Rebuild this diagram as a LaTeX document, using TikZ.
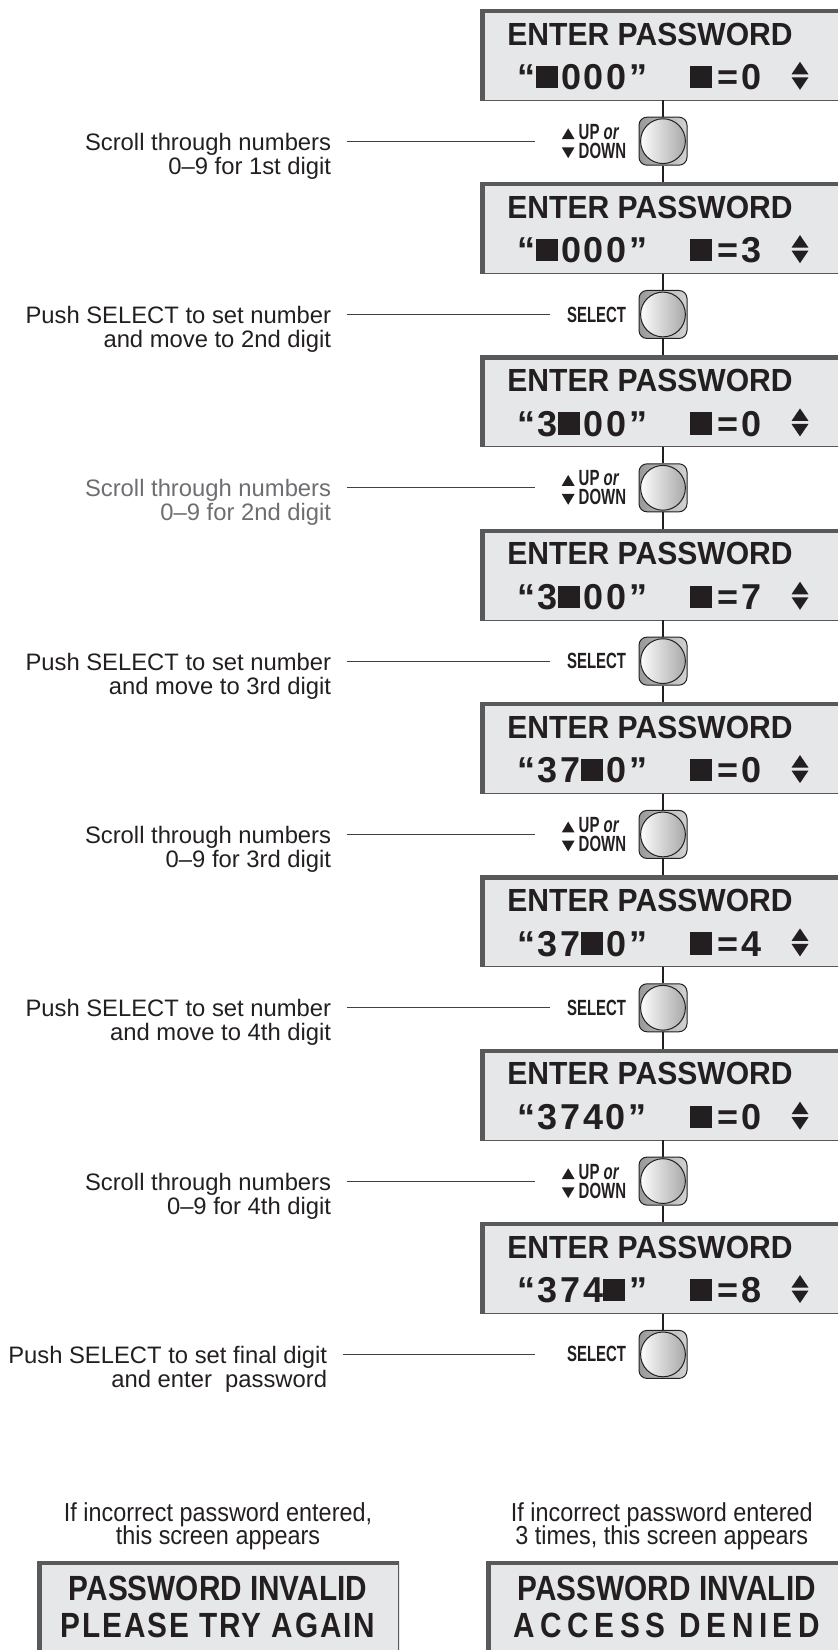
\documentclass[tikz,border=0pt]{standalone}
\usepackage{fontspec}
\setmainfont{Liberation Sans}
\newfontfamily\lcdfont[FakeStretch=0.94]{Liberation Sans}
\newfontfamily\keyfont[FakeStretch=0.68]{Liberation Sans}
\newfontfamily\narrowfont[FakeStretch=0.9]{Liberation Sans}
\newfontfamily\boxfont[FakeStretch=0.85]{Liberation Sans}
\usepackage{tikz}
\usetikzlibrary{positioning}
\lineskiplimit=-5pt
\tikzstyle{screen} = [rectangle, draw = inkBlack!75, line width = 0.4pt, fill = lcdGray, minimum width = 183pt, minimum height = 45.5pt, inner sep = 0pt, align = center, text = inkBlack, font = \lcdfont\fontsize{16}{22.2}\selectfont\bfseries, path picture = {\fill[lcdEdge] (path picture bounding box.north west) rectangle ([xshift = 2.6pt]path picture bounding box.south west); \fill[lcdEdge] (path picture bounding box.north west) rectangle ([yshift = -2pt]path picture bounding box.north east);}]
\tikzstyle{errscreen} = [rectangle, fill = lcdGray, minimum width = 181pt, minimum height = 44.5pt, inner sep = 0pt, align = center, text = inkBlack, font = \boxfont\fontsize{17.5}{18.5}\selectfont\bfseries, path picture = {\fill[lcdEdge] (path picture bounding box.north west) rectangle ([xshift = 2.6pt]path picture bounding box.south west); \fill[lcdEdge] (path picture bounding box.north west) rectangle ([yshift = -2pt]path picture bounding box.north east); \draw[inkBlack!75, line width = 0.8pt] (path picture bounding box.north east) -- (path picture bounding box.south east);}]
\tikzstyle{button} = [rectangle, rounded corners = 4pt, draw = inkBlack, line width = 0.5pt, left color = gray!80, right color = gray!35, minimum width = 24pt, minimum height = 24pt, path picture = {\shade[left color = white, right color = gray!70, draw = inkBlack, line width = 0.5pt] (path picture bounding box.center) circle (11.2pt);}]
\tikzstyle{keylabel} = [inner sep = 0pt, align = left, text = inkBlack, font = \keyfont\fontsize{11}{9.5}\selectfont\bfseries]
\tikzstyle{note} = [inner sep = 0pt, align = right, text = inkBlack, font = \fontsize{11.9}{12}\selectfont]
\tikzstyle{faintnote} = [note, text = noteGray]
\tikzstyle{caption} = [inner sep = 0pt, align = center, text = inkBlack, font = \narrowfont\fontsize{13}{11.5}\selectfont]
\tikzstyle{wire} = [draw = inkBlack, line width = 1pt]
\tikzstyle{lead} = [draw = inkBlack!85, line width = 0.5pt]
\definecolor{lcdGray}{HTML}{E6E7E8}
\definecolor{lcdEdge}{HTML}{58595B}
\definecolor{inkBlack}{HTML}{231F20}
\definecolor{noteGray}{HTML}{6D6E71}
\newcommand{\blk}{\rule[0.04em]{0.62em}{0.62em}\hspace{0.1em}}
\newcommand{\uptri}{\tikz\fill (0,0) -- (3.2pt,5.4pt) -- (6.4pt,0) -- cycle;}
\newcommand{\downtri}{\tikz\fill (0,5.4pt) -- (6.4pt,5.4pt) -- (3.2pt,0) -- cycle;}
\newcommand{\updown}{\raisebox{-0.2pt}{\tikz{\fill (0,7.75pt) -- (4.25pt,14pt) -- (8.5pt,7.75pt) -- cycle; \fill (0,6.25pt) -- (8.5pt,6.25pt) -- (4.25pt,0pt) -- cycle;}}}
\newcommand{\pin}[2]{{\normalfont\bfseries\fontsize{18}{22.2}\selectfont\addfontfeatures{LetterSpace=7}\makebox[68pt][l]{“#1”}\hspace{18pt}\makebox[39pt][l]{\blk\hspace{1pt}=\hspace{1.5pt}#2}}\hspace{12pt}\updown}
\newcommand{\entry}{\rule{0pt}{12.9pt}ENTER PASSWORD\hspace*{13pt}}

\begin{document}
\begin{tikzpicture}
        \useasboundingbox (0pt,0pt) rectangle (419pt,-825pt);
        \node(S1) [screen] at (331.5pt,-27.25pt) {\entry\\\pin{\blk000}{0}};
        \node(B1) [button, below of = S1, node distance = 43.33pt] {};
        \node(S2) [screen, below of = B1, node distance = 43.33pt] {\entry\\\pin{\blk000}{3}};
        \node(B2) [button, below of = S2, node distance = 43.33pt] {};
        \node(S3) [screen, below of = B2, node distance = 43.33pt] {\entry\\\pin{3\blk00}{0}};
        \node(B3) [button, below of = S3, node distance = 43.33pt] {};
        \node(S4) [screen, below of = B3, node distance = 43.33pt] {\entry\\\pin{3\blk00}{7}};
        \node(B4) [button, below of = S4, node distance = 43.33pt] {};
        \node(S5) [screen, below of = B4, node distance = 43.33pt] {\entry\\\pin{37\blk0}{0}};
        \node(B5) [button, below of = S5, node distance = 43.33pt] {};
        \node(S6) [screen, below of = B5, node distance = 43.33pt] {\entry\\\pin{37\blk0}{4}};
        \node(B6) [button, below of = S6, node distance = 43.33pt] {};
        \node(S7) [screen, below of = B6, node distance = 43.33pt] {\entry\\\pin{3740}{0}};
        \node(B7) [button, below of = S7, node distance = 43.33pt] {};
        \node(S8) [screen, below of = B7, node distance = 43.33pt] {\entry\\\pin{374\blk}{8}};
        \node(B8) [button, below of = S8, node distance = 43.33pt] {};
        % key names beside the buttons
        \node(K1) [keylabel, left = 6pt of B1] {\uptri\ UP \textit{or}\\\downtri\ DOWN};
        \node(K2) [keylabel, left = 6pt of B2] {SELECT};
        \node(K3) [keylabel, left = 6pt of B3] {\uptri\ UP \textit{or}\\\downtri\ DOWN};
        \node(K4) [keylabel, left = 6pt of B4] {SELECT};
        \node(K5) [keylabel, left = 6pt of B5] {\uptri\ UP \textit{or}\\\downtri\ DOWN};
        \node(K6) [keylabel, left = 6pt of B6] {SELECT};
        \node(K7) [keylabel, left = 6pt of B7] {\uptri\ UP \textit{or}\\\downtri\ DOWN};
        \node(K8) [keylabel, left = 6pt of B8] {SELECT};
        \node(N1) [note, left = 153.5pt of B1, yshift = -7.5pt] {Scroll through numbers\\0–9 for 1st digit};
        \node(N2) [note, left = 153.5pt of B2, yshift = -7.5pt] {Push SELECT to set number\\and move to 2nd digit};
        \node(N3) [faintnote, left = 153.5pt of B3, yshift = -7.5pt] {Scroll through numbers\\0–9 for 2nd digit};
        \node(N4) [note, left = 153.5pt of B4, yshift = -7.5pt] {Push SELECT to set number\\and move to 3rd digit};
        \node(N5) [note, left = 153.5pt of B5, yshift = -7.5pt] {Scroll through numbers\\0–9 for 3rd digit};
        \node(N6) [note, left = 153.5pt of B6, yshift = -7.5pt] {Push SELECT to set number\\and move to 4th digit};
        \node(N7) [note, left = 153.5pt of B7, yshift = -7.5pt] {Scroll through numbers\\0–9 for 4th digit};
        \node(N8) [note, left = 155.5pt of B8, yshift = -7.5pt] {Push SELECT to set final digit\\and enter\ \ password};
        % outcome screens, cut by the page edge
        \node(E1) [errscreen] at (109pt,-802.75pt) {\rule{0pt}{14pt}PASSWORD INVALID\\{\addfontfeatures{LetterSpace=5.5}PLEASE TRY AGAIN}};
        \node(E2) [errscreen, right = 43pt of E1] {\rule{0pt}{14pt}PASSWORD INVALID\\{\addfontfeatures{LetterSpace=16}ACCESS DENIED}};
        \node(C1) [caption, above = 5pt of E1] {If incorrect password entered,\\this screen appears};
        \node(C2) [caption, above = 5pt of E2, xshift = -2.5pt] {If incorrect password entered\\3 times, this screen appears};
        \begin{scope}[on background layer/.try]
        \draw[wire] (S1) -- (B1);
        \draw[wire] (B1) -- (S2);
        \draw[wire] (S2) -- (B2);
        \draw[wire] (B2) -- (S3);
        \draw[wire] (S3) -- (B3);
        \draw[wire] (B3) -- (S4);
        \draw[wire] (S4) -- (B4);
        \draw[wire] (B4) -- (S5);
        \draw[wire] (S5) -- (B5);
        \draw[wire] (B5) -- (S6);
        \draw[wire] (S6) -- (B6);
        \draw[wire] (B6) -- (S7);
        \draw[wire] (S7) -- (B7);
        \draw[wire] (B7) -- (S8);
        \draw[wire] (S8) -- (B8);
        \end{scope}
        \draw[lead] ([xshift = 7.5pt]N1.east |- B1) -- ([xshift = -52pt]B1.west);
        \draw[lead] ([xshift = 7.5pt]N2.east |- B2) -- ([xshift = -44.5pt]B2.west);
        \draw[lead] ([xshift = 7.5pt]N3.east |- B3) -- ([xshift = -52pt]B3.west);
        \draw[lead] ([xshift = 7.5pt]N4.east |- B4) -- ([xshift = -44.5pt]B4.west);
        \draw[lead] ([xshift = 7.5pt]N5.east |- B5) -- ([xshift = -52pt]B5.west);
        \draw[lead] ([xshift = 7.5pt]N6.east |- B6) -- ([xshift = -44.5pt]B6.west);
        \draw[lead] ([xshift = 7.5pt]N7.east |- B7) -- ([xshift = -52pt]B7.west);
        \draw[lead] ([xshift = 7.5pt]N8.east |- B8) -- ([xshift = -52pt]B8.west);
\end{tikzpicture}
\end{document}
